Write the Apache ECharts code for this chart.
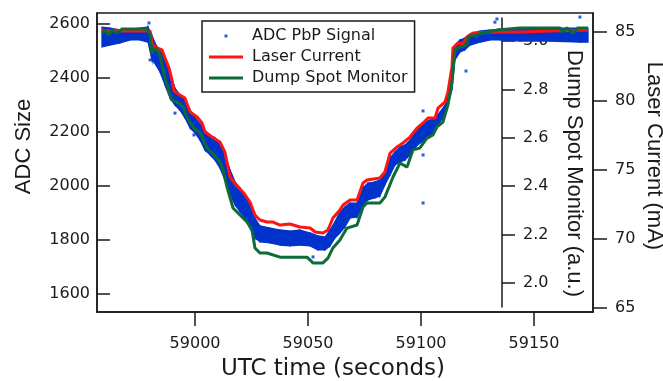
<!DOCTYPE html>
<html>
<head>
<meta charset="utf-8">
<script src="https://cdn.jsdelivr.net/npm/echarts@6/dist/echarts.min.js"></script>
<style>html,body{margin:0;padding:0;background:#fff;}#c{width:663px;height:381px;}</style>
</head>
<body>
<div id="c"></div>
<script>
// ---- data ----
const timeLaser = [58958.8,58962.4,58965.4,58967.7,58980.1,58980.9,58982.3,58985.4,58986.7,58988.5,58989.8,58990.7,58993.3,58995.5,58997.8,59000.9,59003.1,59004.4,59007.5,59011.0,59013.2,59015.5,59018.5,59021.6,59024.3,59026.5,59028.7,59031.8,59034.5,59037.6,59042.0,59046.4,59050.9,59053.1,59056.6,59058.8,59061.0,59064.1,59065.5,59068.6,59071.7,59074.3,59076.1,59081.8,59084.0,59086.3,59089.4,59092.0,59095.1,59098.2,59100.9,59103.1,59106.2,59107.5,59110.6,59111.9,59113.7,59114.1,59116.3,59118.5,59120.3,59123.0,59133.6,59145.1,59157.1,59173.9];
const laserCurrent = [85.14,85.07,85.14,85.07,85.07,84.20,83.91,83.70,83.12,82.39,81.52,80.72,80.43,80.22,79.20,78.84,78.41,77.75,77.39,77.03,76.30,74.49,73.84,73.33,72.68,71.74,71.38,71.23,71.23,71.01,71.09,70.87,70.80,70.51,70.43,70.65,71.52,72.10,72.46,72.83,72.83,74.06,74.28,74.42,74.86,76.23,76.67,76.96,77.39,78.04,78.41,78.77,78.77,79.49,79.93,80.65,82.46,83.84,84.20,84.13,84.64,84.93,85.00,85.00,85.07,85.14];

const timeDump = [58958.8,58960.1,58961.9,58963.2,58965.4,58967.7,58978.7,58980.1,58980.9,58982.3,58984.0,58985.4,58986.7,58988.5,58989.8,58992.9,58995.1,58996.4,58999.5,59002.2,59005.3,59008.4,59011.0,59012.4,59014.1,59016.8,59019.9,59023.0,59025.2,59026.5,59028.7,59031.8,59037.6,59043.3,59049.5,59052.2,59056.6,59058.8,59061.0,59064.1,59067.2,59071.7,59074.3,59076.1,59081.8,59084.0,59087.6,59090.7,59093.8,59096.4,59099.5,59102.6,59105.3,59107.1,59109.7,59111.9,59113.7,59115.0,59117.2,59120.3,59120.8,59127.4,59133.6,59143.8,59161.5,59162.8,59164.6,59167.2,59169.4,59173.9];
const dumpSpot = [3.033,3.045,3.025,3.045,3.033,3.050,3.050,3.025,2.950,2.971,2.955,2.901,2.847,2.789,2.756,2.744,2.723,2.682,2.640,2.620,2.558,2.529,2.500,2.467,2.397,2.310,2.281,2.252,2.219,2.145,2.124,2.124,2.107,2.107,2.107,2.083,2.083,2.103,2.145,2.178,2.227,2.240,2.314,2.331,2.331,2.355,2.438,2.496,2.479,2.550,2.558,2.599,2.612,2.645,2.665,2.736,2.831,2.963,2.975,2.983,3.017,3.033,3.045,3.054,3.054,3.037,3.054,3.033,3.054,3.054];

const timeAdc = [58958.8,58962.4,58966.8,58971.2,58975.6,58979.2,58980.9,58982.7,58984.5,58986.7,58988.9,58991.1,58993.3,58995.5,58997.8,59000.0,59002.2,59004.4,59006.6,59008.8,59011.0,59013.2,59015.5,59017.7,59019.9,59022.1,59024.3,59026.5,59028.7,59033.2,59037.6,59042.0,59046.4,59050.9,59054.4,59057.5,59059.7,59061.9,59064.1,59066.3,59068.6,59071.7,59074.3,59076.5,59079.6,59081.8,59084.0,59086.3,59088.5,59090.7,59092.9,59095.1,59097.3,59099.5,59101.7,59103.9,59106.2,59108.4,59110.6,59111.9,59113.7,59115.0,59117.2,59119.4,59121.7,59126.1,59130.5,59134.9,59143.8,59157.1,59170.3,59173.9];
const adcHigh = [2589,2585,2578,2581,2585,2589,2559,2522,2504,2474,2422,2363,2337,2319,2281,2252,2230,2207,2189,2178,2152,2115,2059,2015,1993,1967,1930,1881,1852,1844,1837,1833,1837,1826,1815,1811,1837,1867,1904,1922,1937,1937,1993,2011,2015,2022,2052,2104,2126,2144,2152,2170,2196,2219,2237,2244,2252,2274,2300,2337,2430,2522,2541,2548,2563,2574,2578,2581,2581,2585,2585,2585];
const adcLow = [2515,2522,2530,2541,2541,2533,2467,2448,2422,2374,2326,2300,2281,2252,2215,2196,2170,2133,2115,2096,2067,2022,1967,1930,1904,1881,1844,1807,1793,1789,1781,1778,1781,1778,1763,1763,1778,1807,1826,1848,1881,1885,1930,1948,1956,1963,2004,2041,2078,2089,2096,2115,2141,2159,2170,2181,2207,2237,2263,2300,2356,2467,2496,2504,2522,2533,2541,2541,2537,2537,2533,2533];

const outlierTime = [58979.6,58980.1,58991.1,58999.5,59052.2,59100.9,59100.9,59100.9,59119.9,59132.7,59133.6,59170.3];
const outlierAdc = [2604,2467,2270,2189,1737,2278,2115,1937,2426,2607,2619,2626];

const xTicks = [59000, 59050, 59100, 59150];
const adcTicks = [1600, 1800, 2000, 2200, 2400, 2600];
const laserTicks = [65, 70, 75, 80, 85];
const dumpTicks = [2.0, 2.2, 2.4, 2.6, 2.8, 3.0];

// ---- chart ----
const BLUE = '#0033cc', RED = '#ff1414', GREEN = '#0d6b37', INK = '#1a1a1a';
const tickFont = {fontFamily: 'DejaVu Sans', fontSize: 16, color: INK};
const axLine = {show: true, lineStyle: {color: INK, width: 1.5}};
const X0 = 58956.6, X1 = 59176.1;
const plain = v => String(v);
const lineIcon = 'path://M0,0L0.01,0L0,0.01Z M0,5.5L34,5.5L34,8.5L0,8.5Z M34,14L34.01,14L34,13.99Z';

const chart = echarts.init(document.getElementById('c'), null, {renderer: 'canvas'});
chart.setOption({
  animation: false,
  backgroundColor: '#fff',
  grid: [
    {left: 97, right: 70, top: 13, bottom: 69, outerBoundsMode: 'none', containLabel: false,
     show: true, borderColor: INK, borderWidth: 1.5, backgroundColor: 'transparent'},
    {left: 97, right: 70, top: 18, bottom: 74, outerBoundsMode: 'none', containLabel: false}
  ],
  legend: {
    left: 202, top: 21, orient: 'vertical',
    backgroundColor: '#fff', borderColor: INK, borderWidth: 1.5, borderRadius: 0,
    padding: [6, 7, 5, 7], itemWidth: 34, itemHeight: 14, itemGap: 3,
    textStyle: {fontFamily: 'DejaVu Sans', fontSize: 16, color: INK, padding: [0, 0, 0, 4], lineHeight: 18},
    data: [
      {name: 'ADC PbP Signal', icon: 'path://M0,0L0.01,0L0,0.01Z M15.5,5.5L18.5,5.5L18.5,8.5L15.5,8.5Z M34,14L34.01,14L34,13.99Z'},
      {name: 'Laser Current', icon: lineIcon},
      {name: 'Dump Spot Monitor', icon: lineIcon}
    ],
    selectedMode: false
  },
  xAxis: [
    {
      type: 'value', gridIndex: 0, min: X0, max: X1, position: 'bottom',
      axisLine: axLine, splitLine: {show: false},
      axisTick: {show: true, customValues: xTicks, length: 14, inside: false, lineStyle: {color: INK, width: 1.5}},
      axisLabel: Object.assign({customValues: xTicks, margin: 24, formatter: plain}, tickFont),
      name: 'UTC time (seconds)', nameLocation: 'middle', nameGap: 46, nameMoveOverlap: false,
      nameTextStyle: {fontFamily: 'DejaVu Sans', fontSize: 23, color: INK, padding: [0, 24, 0, 0]}
    },
    {type: 'value', gridIndex: 1, min: X0, max: X1, show: false}
  ],
  yAxis: [
    {
      type: 'value', gridIndex: 0, min: 1533, max: 2641, position: 'left',
      axisLine: axLine, splitLine: {show: false},
      axisTick: {show: true, customValues: adcTicks, length: 13, inside: true, lineStyle: {color: INK, width: 1.5}},
      axisLabel: Object.assign({customValues: adcTicks, margin: 7, formatter: plain}, tickFont),
      name: 'ADC Size', nameLocation: 'middle', nameGap: 62, nameMoveOverlap: false,
      nameTextStyle: {fontFamily: 'Liberation Sans', fontSize: 22, color: INK, padding: [0, 0, 0, 32]}
    },
    {
      type: 'value', gridIndex: 0, min: 64.71, max: 86.38, position: 'right',
      axisLine: axLine, splitLine: {show: false},
      axisTick: {show: true, customValues: laserTicks, length: 14, inside: false, lineStyle: {color: INK, width: 1.5}},
      axisLabel: Object.assign({customValues: laserTicks, margin: 22, formatter: plain}, tickFont),
      name: 'Laser Current (mA)', nameLocation: 'middle', nameGap: 50, nameRotate: -90, nameMoveOverlap: false,
      nameTextStyle: {fontFamily: 'Liberation Sans', fontSize: 22, color: INK, padding: [0, 13, 0, 0]}
    },
    {
      type: 'value', gridIndex: 1, min: 1.901, max: 3.095, position: 'right', offset: -91,
      axisLine: axLine, splitLine: {show: false},
      axisTick: {show: true, customValues: dumpTicks, length: 13, inside: false, lineStyle: {color: INK, width: 1.5}},
      axisLabel: Object.assign({customValues: dumpTicks, margin: 21, formatter: v => v.toFixed(1)}, tickFont),
      name: 'Dump Spot Monitor (a.u.)', nameLocation: 'middle', nameGap: 61, nameRotate: -90, nameMoveOverlap: false,
      nameTextStyle: {fontFamily: 'Liberation Sans', fontSize: 22, color: INK, padding: [0, 0, 0, 22]}
    }
  ],
  series: [
    {
      name: 'ADC band', type: 'custom', xAxisIndex: 0, yAxisIndex: 0, silent: true,
      encode: {x: 0, y: [1, 2]},
      data: timeAdc.map((t, i) => [t, adcLow[i], adcHigh[i]]),
      renderItem: function (params, api) {
        const i = params.dataIndex;
        if (i >= timeAdc.length - 1) return null;
        const a = api.coord([timeAdc[i], adcHigh[i]]);
        const b = api.coord([timeAdc[i + 1], adcHigh[i + 1]]);
        const c = api.coord([timeAdc[i + 1], adcLow[i + 1]]);
        const d = api.coord([timeAdc[i], adcLow[i]]);
        return {
          type: 'polygon',
          shape: {points: [a, b, c, d]},
          style: {fill: BLUE, stroke: BLUE, lineWidth: 1.2}
        };
      }
    },
    {
      name: 'ADC PbP Signal', type: 'scatter', xAxisIndex: 0, yAxisIndex: 0, silent: true,
      symbol: 'rect', symbolSize: 3, itemStyle: {color: BLUE},
      data: outlierTime.map((t, i) => [t, outlierAdc[i]])
    },
    {
      name: 'Laser Current', type: 'line', xAxisIndex: 0, yAxisIndex: 1, silent: true,
      symbol: 'none', lineStyle: {color: RED, width: 3}, itemStyle: {color: RED},
      data: timeLaser.map((t, i) => [t, laserCurrent[i]])
    },
    {
      name: 'Dump Spot Monitor', type: 'line', xAxisIndex: 1, yAxisIndex: 2, silent: true, clip: false,
      symbol: 'none', lineStyle: {color: GREEN, width: 3}, itemStyle: {color: GREEN},
      data: timeDump.map((t, i) => [t, dumpSpot[i]])
    }
  ]
});
</script>
</body>
</html>
